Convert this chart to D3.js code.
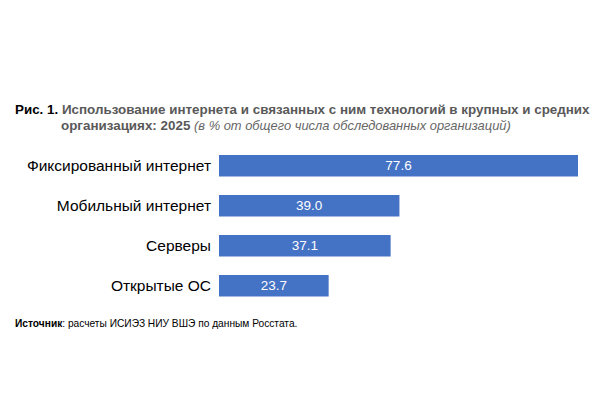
<!DOCTYPE html>
<html>
<head>
<meta charset="utf-8">
<script src="https://cdn.jsdelivr.net/npm/d3@7"></script>
<style>
  body { margin: 0; background: #fff; }
  text { font-family: "Liberation Sans", Arial, sans-serif; }
</style>
</head>
<body>
<svg id="chart" width="600" height="400"></svg>
<script>
var categories = ["Фиксированный интернет", "Мобильный интернет", "Серверы", "Открытые ОС"];
var values = [77.6, 39.0, 37.1, 23.7];

var svg = d3.select("#chart");

// title
var t1 = svg.append("text").attr("x", 15).attr("y", 114)
  .attr("font-size", 13.4).attr("font-weight", "bold");
t1.append("tspan").attr("fill", "#000").text("Рис. 1. ");
t1.append("tspan").attr("fill", "#595959")
  .text("Использование интернета и связанных с ним технологий в крупных и средних");

var t2 = svg.append("text").attr("x", 61).attr("y", 130).attr("font-size", 13.4);
t2.append("tspan").attr("fill", "#595959").attr("font-weight", "bold").text("организациях: 2025 ");
t2.append("tspan").attr("fill", "#666").attr("font-style", "italic").attr("font-size", 12.9)
  .text("(в % от общего числа обследованных организаций)");

var x = d3.scaleLinear().domain([0, 77.6]).range([219, 578]);
var y = d3.scaleBand().domain(categories).range([155, 296.5]).paddingInner(0.4625).paddingOuter(0);

svg.selectAll("rect.bar").data(values).enter().append("rect")
  .attr("class", "bar")
  .attr("x", x(0))
  .attr("y", function(d, i) { return y(categories[i]); })
  .attr("width", function(d) { return x(d) - x(0); })
  .attr("height", y.bandwidth())
  .attr("fill", "#4472C4");

svg.selectAll("text.val").data(values).enter().append("text")
  .attr("class", "val")
  .attr("x", function(d) { return (x(0) + x(d)) / 2; })
  .attr("y", function(d, i) { return y(categories[i]) + y.bandwidth() / 2; })
  .attr("dy", "0.35em")
  .attr("text-anchor", "middle")
  .attr("font-size", 13.5)
  .attr("fill", "#fff")
  .text(function(d) { return d.toFixed(1); });

var yAxis = svg.append("g").attr("transform", "translate(" + (x(0) - 8) + ",0)")
  .call(d3.axisLeft(y).tickSize(0).tickPadding(0));
yAxis.select(".domain").remove();
yAxis.selectAll("text").attr("font-size", 15.5).attr("fill", "#000")
  .attr("font-family", "Liberation Sans, Arial, sans-serif");

// source
var s = svg.append("text").attr("x", 15).attr("y", 327).attr("font-size", 10.2);
s.append("tspan").attr("font-weight", "bold").text("Источник");
s.append("tspan").text(": расчеты ИСИЭЗ НИУ ВШЭ по данным Росстата.");
</script>
</body>
</html>
